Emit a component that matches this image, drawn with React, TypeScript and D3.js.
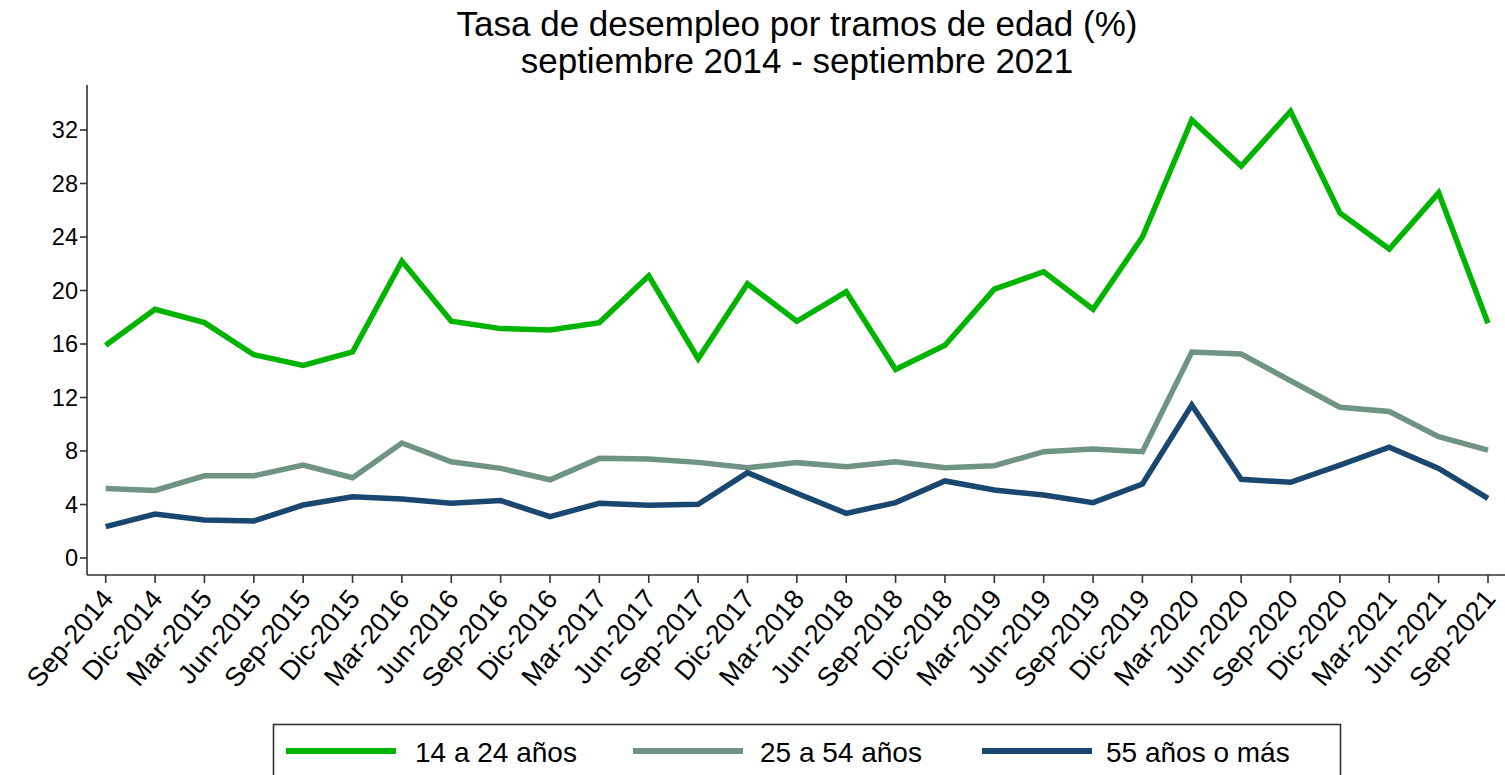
import React, { useEffect } from "react";
import * as d3 from "d3";

const periods = [
  "Sep-2014", "Dic-2014", "Mar-2015", "Jun-2015", "Sep-2015", "Dic-2015",
  "Mar-2016", "Jun-2016", "Sep-2016", "Dic-2016", "Mar-2017", "Jun-2017",
  "Sep-2017", "Dic-2017", "Mar-2018", "Jun-2018", "Sep-2018", "Dic-2018",
  "Mar-2019", "Jun-2019", "Sep-2019", "Dic-2019", "Mar-2020", "Jun-2020",
  "Sep-2020", "Dic-2020", "Mar-2021", "Jun-2021", "Sep-2021",
];

const youth = [
  15.9, 18.6, 17.6, 15.2, 14.4, 15.4, 22.2, 17.7, 17.15, 17.05, 17.6, 21.1,
  14.9, 20.5, 17.7, 19.9, 14.1, 15.9, 20.1, 21.4, 18.6, 24.0, 32.75, 29.3,
  33.4, 25.8, 23.1, 27.3, 17.55,
];

const adults = [
  5.2, 5.05, 6.15, 6.15, 6.95, 6.0, 8.6, 7.2, 6.7, 5.85, 7.45, 7.4,
  7.15, 6.75, 7.13, 6.83, 7.2, 6.75, 6.9, 7.95, 8.15, 7.95, 15.4, 15.25,
  13.25, 11.27, 10.95, 9.07, 8.07,
];

const seniors = [
  2.34, 3.29, 2.84, 2.77, 3.96, 4.58, 4.41, 4.09, 4.29, 3.09, 4.09, 3.94,
  4.01, 6.38, 4.84, 3.34, 4.14, 5.76, 5.08, 4.71, 4.14, 5.53, 11.44, 5.88,
  5.66, 6.95, 8.28, 6.7, 4.46,
];

const yTicks = [0, 4, 8, 12, 16, 20, 24, 28, 32];

const seriesNames = ["14 a 24 años", "25 a 54 años", "55 años o más"];
const seriesColors = ["#00b400", "#6f9483", "#1a476f"];

const titleLines = [
  "Tasa de desempleo por tramos de edad (%)",
  "septiembre 2014 - septiembre 2021",
];

const FONT = "'Liberation Sans', Arial, Helvetica, sans-serif";

export default function App() {
  useEffect(() => {
    document.body.style.margin = "0";
  }, []);

  const W = 1505;
  const H = 775;
  const axisX = 87;
  const axisY = 575;
  const axisTop = 85;

  const x = d3.scalePoint<string>().domain(periods).range([105.7, 1488]);
  const y = d3.scaleLinear().domain([0, 32]).range([558, 130]);

  const line = d3
    .line<number>()
    .x((_, i) => x(periods[i]) as number)
    .y((d) => y(d));

  const allSeries = [youth, adults, seniors];

  const legendItems = [
    { lx: 286, tx: 415 },
    { lx: 633, tx: 760 },
    { lx: 982, tx: 1106 },
  ];

  return (
    <svg
      width={W}
      height={H}
      style={{ position: "absolute", left: 0, top: 0, background: "#fff" }}
      fontFamily={FONT}
    >
      <rect x={0} y={0} width={W} height={H} fill="#fff" />
      {/* Title */}
      <text x={797} y={36} textAnchor="middle" fontSize={35} fill="#000">
        {titleLines[0]}
      </text>
      <text x={797} y={73} textAnchor="middle" fontSize={35} fill="#000">
        {titleLines[1]}
      </text>

      {/* Y axis */}
      <line x1={axisX} x2={axisX} y1={axisTop} y2={axisY} stroke="#333" strokeWidth={1.6} />
      {yTicks.map((t) => (
        <g key={t}>
          <line x1={axisX - 7} x2={axisX} y1={y(t)} y2={y(t)} stroke="#333" strokeWidth={1.6} />
          <text x={axisX - 9} y={y(t)} dy="0.36em" textAnchor="end" fontSize={23.5} fill="#000">
            {t}
          </text>
        </g>
      ))}

      {/* X axis */}
      <line x1={axisX} x2={W} y1={axisY} y2={axisY} stroke="#333" strokeWidth={1.6} />
      {periods.map((p) => {
        const px = x(p) as number;
        return (
          <g key={p}>
            <line x1={px} x2={px} y1={axisY} y2={axisY + 8} stroke="#333" strokeWidth={1.6} />
            <text
              transform={`translate(${px - 6},${axisY + 12}) rotate(-50)`}
              textAnchor="end"
              dy="0.72em"
              fontSize={27}
              fill="#000"
            >
              {p}
            </text>
          </g>
        );
      })}

      {/* Lines */}
      {allSeries.map((s, i) => (
        <path
          key={seriesNames[i]}
          d={line(s) || ""}
          fill="none"
          stroke={seriesColors[i]}
          strokeWidth={5.5}
          strokeLinejoin="miter"
          strokeMiterlimit={3}
        />
      ))}

      {/* Legend */}
      <rect x={273.5} y={724.5} width={1067} height={70} fill="#fff" stroke="#333" strokeWidth={1.6} />
      {legendItems.map((it, i) => (
        <g key={seriesNames[i]}>
          <line
            x1={it.lx}
            x2={it.lx + 110}
            y1={751}
            y2={751}
            stroke={seriesColors[i]}
            strokeWidth={6}
          />
          <text x={it.tx} y={762} fontSize={28} fill="#000">
            {seriesNames[i]}
          </text>
        </g>
      ))}
    </svg>
  );
}
